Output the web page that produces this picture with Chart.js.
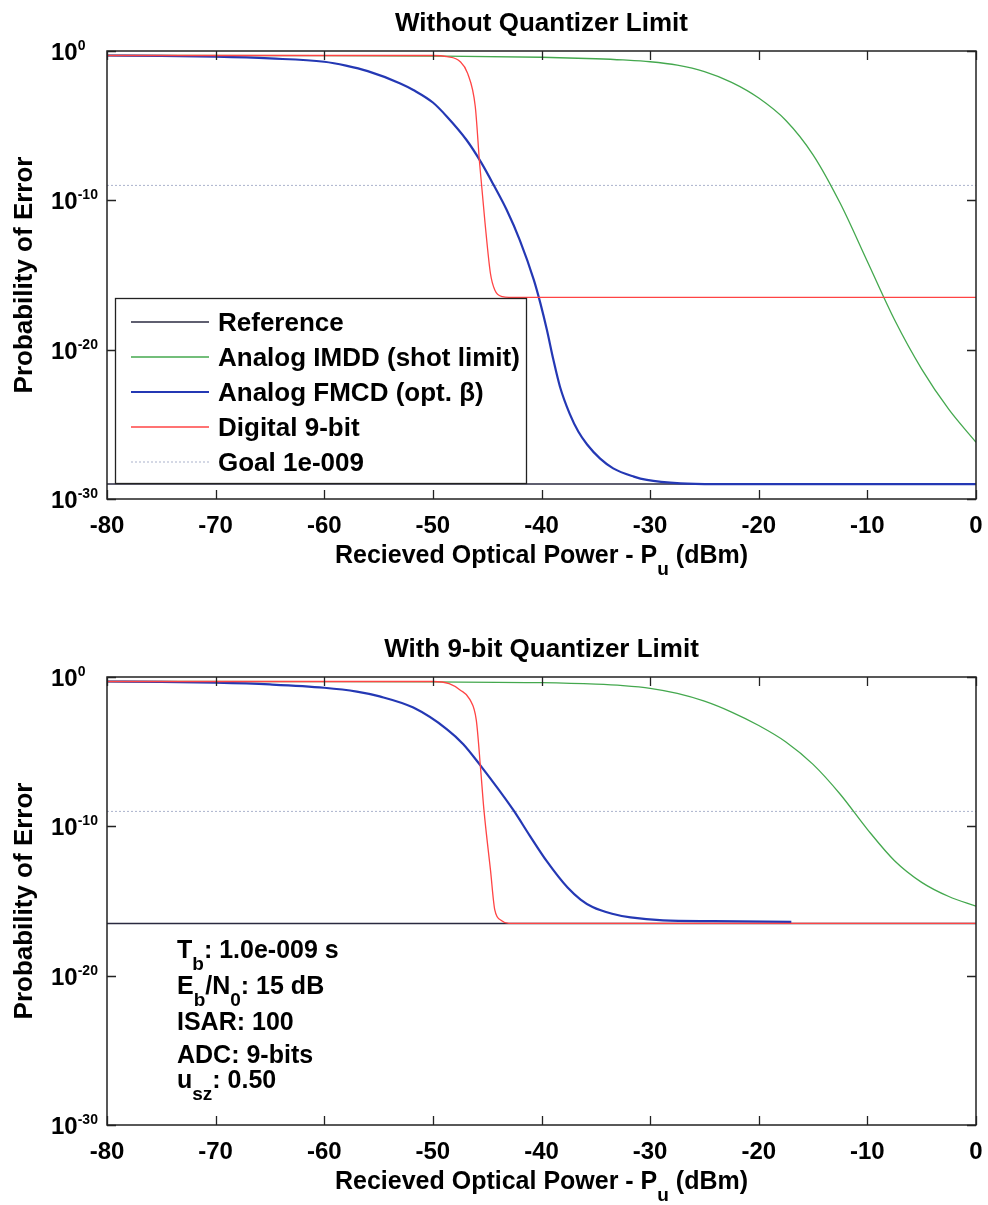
<!DOCTYPE html>
<html>
<head>
<meta charset="utf-8">
<script src="https://cdn.jsdelivr.net/npm/chart.js@4.4.0/dist/chart.umd.min.js"></script>
<style>
  body { margin: 0; background: #fff; }
  .wrap { position: relative; width: 988px; height: 1205px; }
  canvas { position: absolute; left: 0; }
</style>
</head>
<body>
<div class="wrap">
  <canvas id="topChart" width="988" height="600" style="top:0"></canvas>
  <canvas id="bottomChart" width="988" height="605" style="top:600px"></canvas>
</div>
<script>
const FONT = "'Liberation Sans', Arial, sans-serif";

// axis settings
const xMin = -80, xMax = 0, xStep = 10;
const yTickExps = [0, -10, -20, -30];
const goalLevel = 1e-9;

// values are log10(probability of error)

// --- top panel: without quantizer limit
const topRefX = [-80, 0];
const topRefLog = [-29, -29];

const topImddX = [-80, -60, -50, -40, -35, -32.5, -30, -27.5, -25, -22.5, -20, -17.5, -15, -12.5, -10, -7.5, -5, -2.5, 0];
const topImddLog = [-0.30, -0.31, -0.34, -0.42, -0.52, -0.6, -0.72, -0.95, -1.38, -2.1, -3.15, -4.65, -6.95, -10.2, -14.1, -18.0, -21.3, -24.0, -26.2];

const topFmcdX = [-80, -75, -70, -65, -60, -58, -56, -53, -51.8, -50, -48.7, -46.9, -45.6, -44.4, -43.2, -42, -40.7, -40.1, -39.5, -38.9, -38.3, -37.4, -36.6, -35.8, -34.6, -33.4, -31.5, -30.3, -27.2, -24, -20, -10, 0];
const topFmcdLog = [-0.30, -0.32, -0.38, -0.50, -0.72, -0.98, -1.35, -2.17, -2.61, -3.45, -4.40, -5.96, -7.41, -8.98, -10.65, -12.66, -15.34, -16.9, -18.69, -20.7, -22.48, -24.3, -25.5, -26.35, -27.3, -27.95, -28.5, -28.72, -28.95, -29.0, -29.0, -29.0, -29.0];

const topDigX = [-80, -60, -50, -48.7, -47.5, -46.8, -46.1, -45.7, -45.2, -44.7, -44.3, -43.6, -43, 0];
const topDigLog = [-0.30, -0.30, -0.30, -0.38, -0.7, -1.5, -3.7, -7.5, -11.5, -14.9, -16.0, -16.45, -16.5, -16.5];

// --- bottom panel: with 9-bit quantizer limit
const botRefX = [-80, 0];
const botRefLog = [-16.5, -16.5];

const botImddX = [-80, -60, -50, -40, -35, -32.5, -30, -27.5, -25, -22.5, -20, -17.5, -15, -12.5, -10, -7.5, -5, -2.5, 0];
const botImddLog = [-0.30, -0.31, -0.33, -0.38, -0.48, -0.58, -0.76, -1.1, -1.62, -2.35, -3.25, -4.35, -5.85, -7.85, -10.2, -12.3, -13.75, -14.7, -15.35];

const botFmcdX = [-80, -75, -70, -65, -60, -57, -54.9, -51.8, -48.7, -47.2, -45.7, -42.6, -41.1, -39.5, -37.6, -36.4, -35.3, -33.5, -31.8, -28.8, -24.2, -17];
const botFmcdLog = [-0.30, -0.32, -0.38, -0.50, -0.72, -0.98, -1.3, -2.05, -3.5, -4.5, -5.85, -8.9, -10.6, -12.35, -14.1, -14.9, -15.4, -15.85, -16.1, -16.3, -16.35, -16.4];

const botDigX = [-80, -60, -50, -48.5, -47.5, -46.6, -46.0, -45.6, -45.3, -44.7, -44.3, -43.7, -43, 0];
const botDigLog = [-0.30, -0.30, -0.30, -0.45, -0.87, -1.5, -2.9, -6.2, -8.9, -12.9, -15.6, -16.3, -16.5, -16.5];

const labels = ['Reference', 'Analog IMDD (shot limit)', 'Analog FMCD (opt. \u03b2)', 'Digital 9-bit', 'Goal 1e-009'];
const colors = ['#2a2a40', '#44a84e', '#2438b4', '#ff4444', '#aab2cc'];
const widths = [1.5, 1.3, 2.2, 1.3, 1];

const notes = [
  [['T', 0], ['b', 1], [': 1.0e-009 s', 0]],
  [['E', 0], ['b', 1], ['/N', 0], ['0', 1], [': 15 dB', 0]],
  [['ISAR: 100', 0]],
  [['ADC: 9-bits', 0]],
  [['u', 0], ['sz', 1], [': 0.50', 0]]
];

function pts(xs, logs) {
  return xs.map((x, i) => ({ x: x, y: Math.pow(10, logs[i]) }));
}

// draw text with sub (1) / superscript (-1) pieces
function rich(ctx, x, y, parts, size, align) {
  const sz = p => p[1] === 0 ? size : Math.round(size * (p[1] > 0 ? 0.74 : 0.6));
  let total = 0;
  parts.forEach(p => { ctx.font = 'bold ' + sz(p) + 'px ' + FONT; total += ctx.measureText(p[0]).width; });
  let cx = align === 'center' ? x - total / 2 : (align === 'right' ? x - total : x);
  ctx.textAlign = 'left';
  ctx.textBaseline = 'alphabetic';
  parts.forEach(p => {
    ctx.font = 'bold ' + sz(p) + 'px ' + FONT;
    const dy = p[1] > 0 ? size * 0.48 : (p[1] < 0 ? -size * 0.42 : 0);
    ctx.fillText(p[0], cx, y + dy);
    cx += ctx.measureText(p[0]).width;
  });
}

const matlabAxes = {
  id: 'matlabAxes',
  afterDraw(chart, args, opts) {
    const ctx = chart.ctx;
    const a = chart.chartArea;
    const xs = chart.scales.x, ys = chart.scales.y;
    const midX = (a.left + a.right) / 2;
    ctx.save();
    ctx.fillStyle = '#000';

    // box + inward ticks
    ctx.strokeStyle = '#222';
    ctx.lineWidth = 1.5;
    ctx.strokeRect(a.left, a.top, a.right - a.left, a.bottom - a.top);
    ctx.lineWidth = 1.3;
    ctx.beginPath();
    xs.ticks.forEach(t => {
      const px = Math.round(xs.getPixelForValue(t.value)) + 0.5;
      ctx.moveTo(px, a.bottom); ctx.lineTo(px, a.bottom - 9);
      ctx.moveTo(px, a.top); ctx.lineTo(px, a.top + 9);
    });
    ys.ticks.forEach(t => {
      const py = Math.round(ys.getPixelForValue(t.value)) + 0.5;
      ctx.moveTo(a.left, py); ctx.lineTo(a.left + 9, py);
      ctx.moveTo(a.right, py); ctx.lineTo(a.right - 9, py);
    });
    ctx.stroke();

    // y tick labels 10^n
    ys.ticks.forEach(t => {
      const py = ys.getPixelForValue(t.value);
      const e = Math.round(Math.log10(t.value));
      rich(ctx, 51, py + 9, [['10', 0], [String(e), -1]], 24, 'left');
    });

    // title and axis labels
    rich(ctx, midX, a.top - 20, [[opts.title, 0]], 26, 'center');
    rich(ctx, midX, a.bottom + 64, [['Recieved Optical Power - P', 0], ['u', 1], [' (dBm)', 0]], 25, 'center');
    ctx.save();
    ctx.translate(25, (a.top + a.bottom) / 2);
    ctx.rotate(-Math.PI / 2);
    ctx.font = 'bold 26px ' + FONT;
    ctx.textAlign = 'center';
    ctx.textBaseline = 'middle';
    ctx.fillText('Probability of Error', 0, 0);
    ctx.restore();

    // legend box inside the axes
    if (opts.legend) {
      const bx = a.left + 8, by = a.top + 247, bw = 411, bh = 185;
      ctx.fillStyle = '#fff';
      ctx.fillRect(bx, by, bw, bh);
      ctx.strokeStyle = '#222';
      ctx.lineWidth = 1.3;
      ctx.strokeRect(bx + 0.5, by + 0.5, bw, bh);
      chart.data.datasets.forEach((ds, i) => {
        const ry = by + 24 + i * 35;
        ctx.strokeStyle = ds.borderColor;
        ctx.lineWidth = ds.borderWidth;
        ctx.setLineDash(ds.borderDash || []);
        ctx.beginPath();
        ctx.moveTo(bx + 16, ry); ctx.lineTo(bx + 94, ry);
        ctx.stroke();
        ctx.setLineDash([]);
        ctx.fillStyle = '#000';
        rich(ctx, bx + 103, ry + 9, [[ds.label, 0]], 26, 'left');
      });
    }

    // parameter notes
    if (opts.notes) {
      const base = [281, 317, 353, 386, 411];
      opts.notes.forEach((n, i) => rich(ctx, a.left + 70, a.top + base[i], n, 25, 'left'));
    }
    ctx.restore();
  }
};

function makeChart(id, cfg) {
  const sets = [
    [cfg.ref, 5, []],
    [cfg.imdd, 3, []],
    [cfg.fmcd, 2, []],
    [cfg.dig, 1, []],
    [pts([xMin, xMax], [Math.log10(goalLevel), Math.log10(goalLevel)]), 4, [2, 2]]
  ];
  return new Chart(document.getElementById(id), {
    type: 'line',
    data: {
      datasets: sets.map((s, i) => ({
        label: labels[i],
        data: s[0],
        borderColor: colors[i],
        borderWidth: widths[i],
        borderDash: s[2],
        order: s[1],
        pointRadius: 0,
        fill: false,
        cubicInterpolationMode: 'monotone'
      }))
    },
    options: {
      responsive: false,
      animation: false,
      devicePixelRatio: 1,
      layout: { padding: { top: cfg.padTop, right: 12, left: 0, bottom: 0 } },
      plugins: {
        legend: { display: false },
        tooltip: { enabled: false },
        matlabAxes: { title: cfg.title, legend: cfg.showLegend, notes: cfg.notes }
      },
      scales: {
        x: {
          type: 'linear', min: xMin, max: xMax,
          grid: { display: false, drawTicks: false },
          border: { display: false },
          ticks: { stepSize: xStep, color: '#000', padding: 13, font: { family: FONT, size: 24, weight: 'bold' } },
          afterFit: s => { s.height = cfg.xHeight; s.paddingLeft = 0; s.paddingRight = 0; }
        },
        y: {
          type: 'logarithmic', min: 1e-30, max: 1,
          grid: { display: false, drawTicks: false },
          border: { display: false },
          ticks: { display: false },
          afterBuildTicks: s => { s.ticks = yTickExps.map(e => ({ value: Math.pow(10, e) })); },
          afterFit: s => { s.width = 107; }
        }
      }
    },
    plugins: [matlabAxes]
  });
}

makeChart('topChart', {
  title: 'Without Quantizer Limit',
  padTop: 51, xHeight: 101, showLegend: true,
  ref: pts(topRefX, topRefLog), imdd: pts(topImddX, topImddLog),
  fmcd: pts(topFmcdX, topFmcdLog), dig: pts(topDigX, topDigLog)
});

makeChart('bottomChart', {
  title: 'With 9-bit Quantizer Limit',
  padTop: 77, xHeight: 80, showLegend: false, notes: notes,
  ref: pts(botRefX, botRefLog), imdd: pts(botImddX, botImddLog),
  fmcd: pts(botFmcdX, botFmcdLog), dig: pts(botDigX, botDigLog)
});
</script>
</body>
</html>
